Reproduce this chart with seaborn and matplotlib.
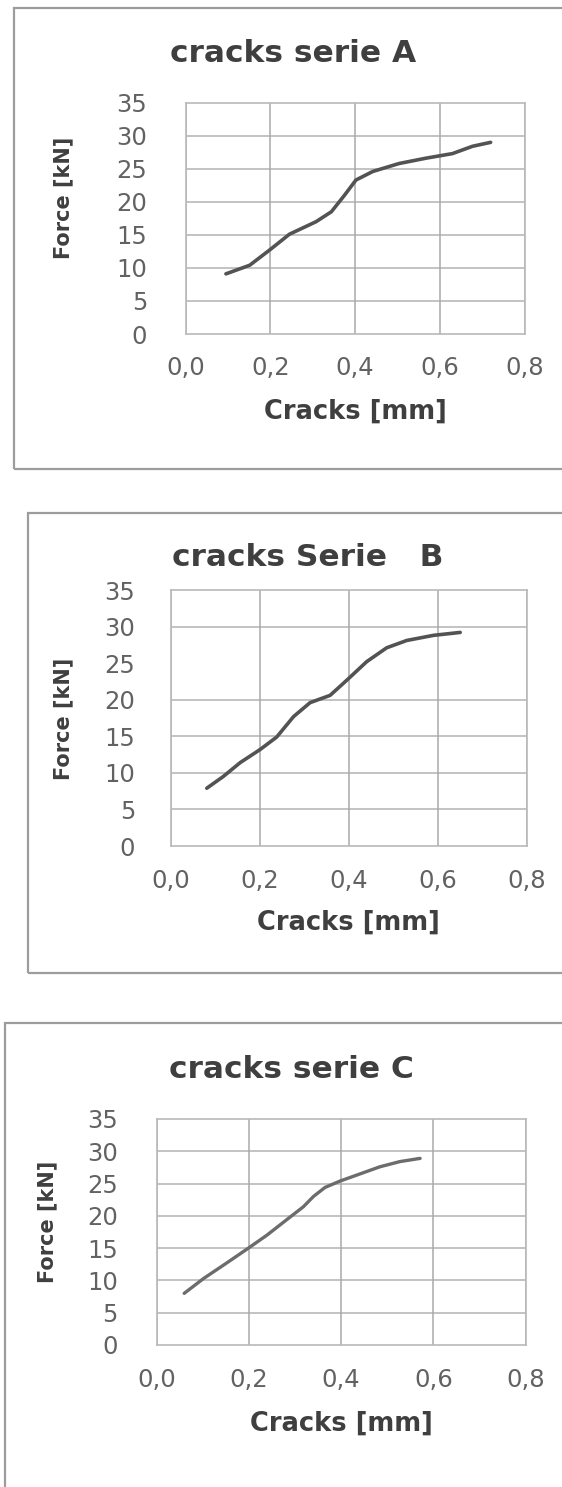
import matplotlib
matplotlib.use("Agg")
import matplotlib.pyplot as plt
from matplotlib.patches import Rectangle
import pandas as pd
import seaborn as sns

# Force versus crack opening for the three test series
crack_a = [0.095, 0.151, 0.198, 0.245, 0.308, 0.344, 0.375, 0.402, 0.442, 0.504, 0.567, 0.630, 0.677, 0.720]
force_a = [9.1, 10.4, 12.7, 15.1, 17.0, 18.5, 21.0, 23.3, 24.6, 25.8, 26.6, 27.3, 28.4, 29.0]

crack_b = [0.081, 0.118, 0.156, 0.201, 0.238, 0.276, 0.313, 0.358, 0.396, 0.440, 0.485, 0.530, 0.590, 0.650]
force_b = [7.9, 9.5, 11.4, 13.2, 14.9, 17.7, 19.6, 20.6, 22.7, 25.2, 27.1, 28.1, 28.8, 29.2]

crack_c = [0.060, 0.102, 0.152, 0.199, 0.239, 0.282, 0.318, 0.340, 0.365, 0.398, 0.441, 0.484, 0.527, 0.571]
force_c = [8.0, 10.3, 12.7, 15.0, 17.0, 19.4, 21.4, 23.0, 24.4, 25.4, 26.5, 27.6, 28.4, 28.9]

titles = ["cracks serie A", "cracks Serie   B", "cracks serie C"]
x_label = "Cracks [mm]"
y_label = "Force [kN]"
x_ticks = [0.0, 0.2, 0.4, 0.6, 0.8]
y_ticks = [0, 5, 10, 15, 20, 25, 30, 35]

W, H = 562, 1487
DPI = 100

sns.set_theme(style="white")
plt.rcParams["font.family"] = ["DejaVu Sans"]
plt.rcParams["axes.grid"] = False


def px_rect(left, top, right, bottom):
    return [left / W, 1 - bottom / H, (right - left) / W, (bottom - top) / H]


# layout of each chart block, in pixels
panels = [
    dict(crack=crack_a, force=force_a, title=titles[0],
         frame=(13.5, 8, 590, 469), plot=(185.7, 102.7, 524.5, 334),
         title_xy=(293, 53), ylab_xy=(63, 197.5), xlab_y=412,
         ypad=38.7, xpad=22, color="#535353", lw=2.6, no_ygrid=[]),
    dict(crack=crack_b, force=force_b, title=titles[1],
         frame=(28, 512.7, 590, 973), plot=(170.7, 590, 527, 846),
         title_xy=(308, 557), ylab_xy=(63.5, 719), xlab_y=923,
         ypad=35.7, xpad=23, color="#535353", lw=2.6, no_ygrid=[25]),
    dict(crack=crack_c, force=force_c, title=titles[2],
         frame=(5, 1022.7, 590, 1520), plot=(156.5, 1119, 525.8, 1345),
         title_xy=(291, 1069), ylab_xy=(47.5, 1222), xlab_y=1424,
         ypad=38.5, xpad=23, color="#6c6c6c", lw=2.4, no_ygrid=[]),
]

fig = plt.figure(figsize=(W / DPI, H / DPI), dpi=DPI)
fig.patch.set_facecolor("white")

frame_color = "#9c9c9c"
vgrid_color = "#a9a9a9"
hgrid_color = "#b9b9b9"
text_color = "#3f3f3f"
tick_color = "#626262"

for p in panels:
    fl, ft, fr, fb = p["frame"]
    fig.patches.append(Rectangle((fl / W, 1 - fb / H), (fr - fl) / W, (fb - ft) / H,
                                 transform=fig.transFigure, fill=False,
                                 edgecolor=frame_color, linewidth=1.6, zorder=0))

    l, t, r, b = p["plot"]
    ax = fig.add_axes(px_rect(l, t, r, b))

    df = pd.DataFrame({"crack": p["crack"], "force": p["force"]})
    sns.lineplot(data=df, x="crack", y="force", ax=ax, color=p["color"],
                 linewidth=p["lw"], sort=False, solid_capstyle="round",
                 solid_joinstyle="round", zorder=3)

    ax.set_xlim(0, 0.8)
    ax.set_ylim(0, 35)
    ax.set_xticks(x_ticks)
    ax.set_yticks(y_ticks)
    ax.set_xticklabels([f"{v:.1f}".replace(".", ",") for v in x_ticks])
    ax.set_yticklabels([str(v) for v in y_ticks])
    ax.tick_params(axis="both", length=0, labelsize=17.5, labelcolor=tick_color)
    ax.tick_params(axis="x", pad=p["xpad"] * 0.72)
    ax.tick_params(axis="y", pad=p["ypad"] * 0.72)

    # vertical grid from the x ticks; horizontal lines one per y tick so
    # individual lines can be left out
    ax.xaxis.grid(True, color=vgrid_color, linewidth=1.1, zorder=0.5)
    ax.yaxis.grid(False)
    for val in y_ticks[1:-1]:
        if val not in p["no_ygrid"]:
            ax.axhline(val, color=hgrid_color, linewidth=1.2, zorder=0.5)

    ax.set_facecolor("white")
    for s in ax.spines.values():
        s.set_visible(True)
        s.set_color(hgrid_color)
        s.set_linewidth(1.2)

    w_px, h_px = r - l, b - t
    ax.set_xlabel(x_label, fontsize=18.5, fontweight="bold", color=text_color, va="center")
    ax.xaxis.set_label_coords(0.5, -(p["xlab_y"] - b) / h_px)
    ax.set_ylabel(y_label, fontsize=15, fontweight="bold", color=text_color,
                  va="center", ha="center")
    yx, yy = p["ylab_xy"]
    ax.yaxis.set_label_coords((yx - l) / w_px, (b - yy) / h_px)

    tx, ty = p["title_xy"]
    fig.text(tx / W, 1 - ty / H, p["title"], ha="center", va="center",
             fontsize=22.5, fontweight="bold", color=text_color)

fig.savefig("out.png", dpi=DPI, facecolor="white")
